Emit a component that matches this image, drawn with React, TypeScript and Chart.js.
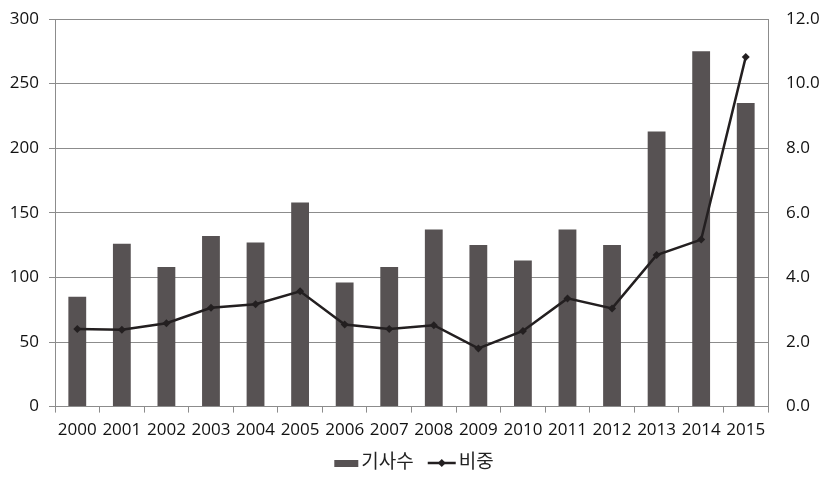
import React, { useEffect, useRef } from "react";
import { Chart, registerables } from "chart.js";

Chart.register(...registerables);

const years = ["2000", "2001", "2002", "2003", "2004", "2005", "2006", "2007", "2008", "2009", "2010", "2011", "2012", "2013", "2014", "2015"];
const articleCounts = [85, 126, 108, 132, 127, 158, 96, 108, 137, 125, 113, 137, 125, 213, 275, 235];
const shares = [2.4, 2.38, 2.58, 3.06, 3.17, 3.57, 2.54, 2.4, 2.52, 1.8, 2.34, 3.35, 3.04, 4.69, 5.17, 10.82];
const barLabel = "기사수";
const lineLabel = "비중";

const FONT = '"Open Sans", "Noto Sans CJK KR", sans-serif';
const BAR_COLOR = "#575253";
const LINE_COLOR = "#231f20";
const GRID = "#8c8c8c";

const legendPlugin = {
  id: "customLegend",
  afterDraw(chart: any) {
    const ctx = chart.ctx;
    const cx = chart.width / 2;
    const y = 463;
    ctx.save();
    ctx.font = `19px ${FONT}`;
    ctx.textBaseline = "middle";
    ctx.fillStyle = "#222";
    const w1 = ctx.measureText(barLabel).width;
    const w2 = ctx.measureText(lineLabel).width;
    const boxW = 24, gap1 = 3, sep = 14, lineW = 28, gap2 = 3;
    const total = boxW + gap1 + w1 + sep + lineW + gap2 + w2;
    let x = cx - total / 2;
    ctx.fillStyle = BAR_COLOR;
    ctx.fillRect(x, y - 3, boxW, 7);
    x += boxW + gap1;
    ctx.fillStyle = "#222";
    ctx.fillText(barLabel, x, y);
    x += w1 + sep;
    ctx.strokeStyle = LINE_COLOR;
    ctx.lineWidth = 2.5;
    ctx.beginPath();
    ctx.moveTo(x, y);
    ctx.lineTo(x + lineW, y);
    ctx.stroke();
    const dx = x + lineW / 2;
    ctx.fillStyle = LINE_COLOR;
    ctx.beginPath();
    ctx.moveTo(dx, y - 4);
    ctx.lineTo(dx + 4, y);
    ctx.lineTo(dx, y + 4);
    ctx.lineTo(dx - 4, y);
    ctx.closePath();
    ctx.fill();
    x += lineW + gap2;
    ctx.fillStyle = "#222";
    ctx.fillText(lineLabel, x, y);
    ctx.restore();
  },
};

export default function App() {
  const ref = useRef<HTMLCanvasElement>(null);
  useEffect(() => {
    if (!ref.current) return;
    const chart = new Chart(ref.current, {
      type: "bar",
      data: {
        labels: years,
        datasets: [
          {
            type: "line",
            label: lineLabel,
            data: shares,
            yAxisID: "y2",
            borderColor: LINE_COLOR,
            backgroundColor: LINE_COLOR,
            borderWidth: 2.5,
            pointStyle: "rectRot",
            pointRadius: 4,
            pointBackgroundColor: LINE_COLOR,
            pointBorderWidth: 0,
            tension: 0,
            order: 0,
          } as any,
          {
            type: "bar",
            label: barLabel,
            data: articleCounts,
            yAxisID: "y",
            backgroundColor: BAR_COLOR,
            barPercentage: 0.4,
            categoryPercentage: 1,
            order: 1,
          },
        ],
      },
      options: {
        animation: false,
        responsive: false,
        layout: { padding: { left: 8, right: 0, top: 19, bottom: 37 } },
        plugins: { legend: { display: false }, tooltip: { enabled: false } },
        scales: {
          x: {
            offset: true,
            grid: { display: true, offset: true, drawOnChartArea: false, drawTicks: true, tickLength: 6, color: GRID },
            border: { display: true, color: GRID, width: 1 },
            ticks: { color: "#111", font: { family: FONT, size: 17 }, padding: 7, maxRotation: 0, autoSkip: false },
          },
          y: {
            position: "left",
            min: 0,
            max: 300,
            afterFit: (s: any) => { s.width = 47; s.paddingTop = 0; s.paddingBottom = 0; },
            grid: { color: GRID, tickLength: 6, drawTicks: true },
            border: { display: true, color: GRID },
            ticks: { stepSize: 50, color: "#111", font: { family: FONT, size: 17 }, padding: 10 },
          },
          y2: {
            position: "right",
            min: 0,
            max: 12,
            afterFit: (s: any) => { s.width = 60; s.paddingTop = 0; s.paddingBottom = 0; },
            grid: { display: false, drawTicks: false },
            border: { display: true, color: GRID },
            ticks: {
              stepSize: 2,
              color: "#111",
              font: { family: FONT, size: 17 },
              padding: 18,
              callback: (v: any) => Number(v).toFixed(1),
            },
          },
        },
      },
      plugins: [legendPlugin],
    });
    return () => chart.destroy();
  }, []);
  return (
    <div style={{ position: "fixed", left: 0, top: 0, width: 828, height: 484, background: "#fff" }}>
      <canvas ref={ref} width={828} height={484} style={{ width: 828, height: 484 }} />
    </div>
  );
}
